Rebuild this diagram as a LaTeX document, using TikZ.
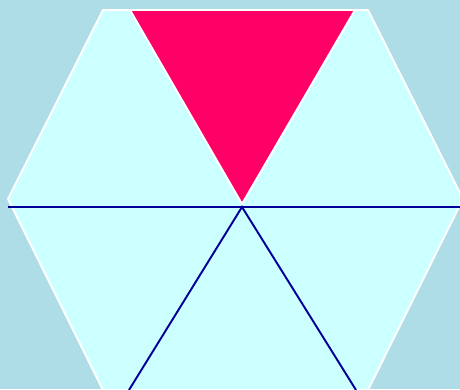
\documentclass[tikz,border=0pt]{standalone}
\definecolor{water}{HTML}{AFDDE7}
\definecolor{pale}{HTML}{CCFFFF}
\definecolor{rose}{HTML}{FF0066}
\definecolor{navy}{HTML}{000099}
\begin{document}
\begin{tikzpicture}[x=0.02cm,y=-0.02cm,
    spoke/.style={navy,line width=1.1pt},
    rim/.style={white,line width=1.1pt,line join=round}]
  \fill[water] (0,0) rectangle (460,389);
  \useasboundingbox (0,0) rectangle (460,389);
  \clip (0,0) rectangle (460,389);
  % hexagon corners
  \coordinate (tl) at (103,10);
  \coordinate (tr) at (368,10);
  \coordinate (r) at (463,199);
  \coordinate (br) at (368,390);
  \coordinate (bl) at (103,390);
  \coordinate (l) at (8,199);
  \filldraw[pale,rim,fill=pale] (tl) -- (tr) -- (r) -- (br) -- (bl) -- (l) -- cycle;
  % shaded triangle
  \coordinate (a) at (130,10);
  \coordinate (b) at (355,10);
  \coordinate (c) at (242,204);
  \filldraw[rim,fill=rose] (a) -- (b) -- (c) -- cycle;
  % spokes
  \coordinate (o) at (242,207);
  \coordinate (w) at (8,207);
  \coordinate (e) at (462,207);
  \coordinate (sw) at (129,390);
  \coordinate (se) at (356,390);
  \draw[spoke] (w) -- (e);
  \draw[spoke] (sw) -- (o) -- (se);
\end{tikzpicture}
\end{document}
